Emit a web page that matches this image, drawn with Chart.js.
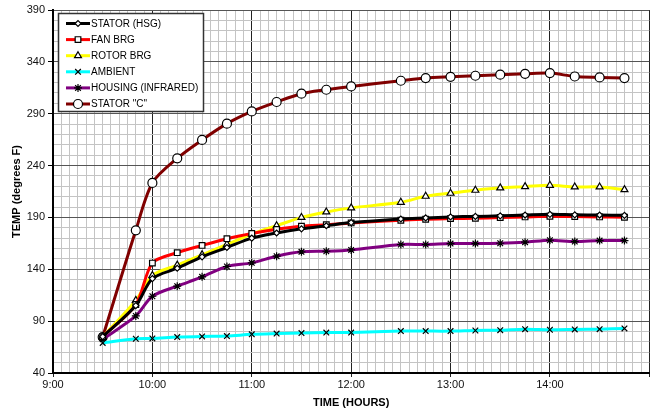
<!DOCTYPE html>
<html>
<head>
<meta charset="utf-8">
<script src="https://cdn.jsdelivr.net/npm/chart.js@4/dist/chart.umd.min.js"></script>
<style>
  html, body { margin: 0; padding: 0; background: #fff; }
  #wrap { width: 655px; height: 413px; }
</style>
</head>
<body>
<div id="wrap"><canvas id="tempChart"></canvas></div>
<script>
// readings (time of day, degrees F)
const times = ["9:30", "9:50", "10:00", "10:15", "10:30", "10:45", "11:00", "11:15", "11:30", "11:45",
  "12:00", "12:30", "12:45", "13:00", "13:15", "13:30", "13:45", "14:00", "14:15", "14:30", "14:45"];

const statorHsg = [75, 105, 131, 141, 152, 161, 170, 175, 179, 182,
  185, 188.5, 189.5, 190.5, 191, 191.5, 192.3, 193, 192.5, 192.3, 192];
const fanBrg = [75, 106, 146, 156, 163, 169.5, 174.5, 178.5, 181.5, 183,
  184.7, 187.3, 188.2, 188.9, 189.2, 189.9, 190.5, 191.1, 190.8, 190.5, 190.2];
const rotorBrg = [75, 110, 134, 144, 154, 164, 174, 182, 190, 195.3,
  199.2, 204.6, 210.4, 213.3, 216.2, 218.5, 219.7, 221, 219.4, 219.4, 216.8];
const ambient = [69, 73, 73.3, 74.6, 75.3, 75.6, 77.3, 78, 78.5, 79,
  79, 80.4, 80.4, 80.4, 81, 81.3, 82.3, 81.7, 82, 82.3, 83];
const housing = [72.5, 95, 114, 123.7, 132.7, 142.7, 146.2, 152.6, 156.8, 157.4,
  158.7, 163.9, 163.9, 164.8, 164.8, 165.1, 166.1, 168, 166.7, 167.7, 167.7];
const statorC = [74.6, 177.6, 223.3, 247, 264.7, 280.4, 292.2, 301.3, 309.3, 313.1,
  316.3, 321.8, 324.4, 325.6, 326.6, 327.6, 328.5, 329.2, 325.9, 325, 324.4];

const seriesNames = ["STATOR (HSG)", "FAN BRG", "ROTOR BRG", "AMBIENT", "HOUSING (INFRARED)", 'STATOR "C"'];

// x axis: 9:00 .. 15:00, in minutes
const xMin = 9 * 60;
const xMax = 15 * 60;
const yMin = 40;
const yMax = 390;

function toMinutes(t) {
  const parts = t.split(":");
  return parseInt(parts[0]) * 60 + parseInt(parts[1]);
}

function points(values) {
  return values.map((v, i) => ({ x: toMinutes(times[i]), y: v }));
}

function series(label, values, color, style, radius) {
  return {
    label: label,
    data: points(values),
    borderColor: color,
    backgroundColor: color,
    borderWidth: 3,
    tension: 0.3,
    pointStyle: style,
    pointRadius: radius,
    pointBackgroundColor: "#fff",
    pointBorderColor: "#000",
    pointBorderWidth: 1.2
  };
}

const datasets = [
  series(seriesNames[0], statorHsg, "#000000", "rectRot", 3),
  series(seriesNames[1], fanBrg, "#ff0000", "rect", 4),
  series(seriesNames[2], rotorBrg, "#ffff00", "triangle", 4),
  series(seriesNames[3], ambient, "#00ffff", "crossRot", 4),
  series(seriesNames[4], housing, "#800080", "star", 4),
  series(seriesNames[5], statorC, "#800000", "circle", 4.5)
];

// legend box drawn inside the plot, top-left
const boxLegend = {
  id: "boxLegend",
  afterDraw(chart) {
    const ctx = chart.ctx;
    const left = 58.5, top = 13.5, w = 145, h = 98;
    ctx.save();
    ctx.fillStyle = "#fff";
    ctx.fillRect(left, top, w, h);
    ctx.strokeStyle = "#333";
    ctx.lineWidth = 1.5;
    ctx.strokeRect(left, top, w, h);
    ctx.font = "10px 'Liberation Sans', Arial, sans-serif";
    ctx.textBaseline = "middle";
    chart.data.datasets.forEach((ds, i) => {
      const y = 23.5 + i * 16.1;
      ctx.strokeStyle = ds.borderColor;
      ctx.lineWidth = 3;
      ctx.beginPath();
      ctx.moveTo(66, y);
      ctx.lineTo(90, y);
      ctx.stroke();
      ctx.fillStyle = "#fff";
      ctx.strokeStyle = "#000";
      ctx.lineWidth = 1.2;
      Chart.helpers.drawPoint(ctx, {
        pointStyle: ds.pointStyle,
        radius: ds.pointRadius,
        rotation: 0,
        borderWidth: 1.2
      }, 78, y);
      ctx.fillStyle = "#000";
      ctx.fillText(ds.label, 91, y + 0.5);
    });
    ctx.restore();
  }
};

function hourLabel(m) {
  return Math.floor(m / 60) + ":" + String(m % 60).padStart(2, "0");
}

new Chart(document.getElementById("tempChart"), {
  type: "line",
  data: { datasets: datasets },
  plugins: [boxLegend],
  options: {
    responsive: true,
    maintainAspectRatio: false,
    animation: false,
    layout: { padding: { top: 10, right: 3, left: 0, bottom: 0 } },
    plugins: {
      legend: { display: false },
      tooltip: { enabled: false }
    },
    scales: {
      x: {
        type: "linear",
        min: xMin,
        max: xMax,
        afterFit(scale) { scale.height = 40; },
        ticks: {
          stepSize: 5,
          autoSkip: false,
          maxRotation: 0,
          padding: 1,
          color: "#111",
          font: { family: "'Liberation Sans', Arial, sans-serif", size: 11 },
          callback: v => (v % 60 === 0 && v < xMax) ? hourLabel(v) : ""
        },
        grid: {
          color: c => (c.tick && c.tick.value % 60 === 0) ? "#222" : "#c4c4c4",
          lineWidth: 1,
          tickLength: 4,
          tickColor: c => (c.tick && c.tick.value % 60 === 0) ? "#222" : "rgba(0,0,0,0)"
        },
        border: { color: "#000", width: 2 },
        title: {
          display: true,
          text: "TIME (HOURS)",
          color: "#000",
          font: { family: "'Liberation Sans', Arial, sans-serif", size: 11, weight: "bold" },
          padding: { top: 0, bottom: 3 }
        }
      },
      y: {
        min: yMin,
        max: yMax,
        afterFit(scale) { scale.width = 53; },
        ticks: {
          stepSize: 10,
          autoSkip: false,
          padding: 3,
          color: "#111",
          font: { family: "'Liberation Sans', Arial, sans-serif", size: 11 },
          callback: v => ((v - yMin) % 50 === 0) ? String(v) : ""
        },
        grid: {
          color: c => (c.tick && (c.tick.value - yMin) % 50 === 0) ? "#555" : "#c4c4c4",
          lineWidth: 1,
          tickLength: 5,
          tickColor: c => (c.tick && (c.tick.value - yMin) % 50 === 0) ? "#000" : "rgba(0,0,0,0)"
        },
        border: { color: "#000", width: 2 },
        title: {
          display: true,
          text: "TEMP (degrees F)",
          color: "#000",
          font: { family: "'Liberation Sans', Arial, sans-serif", size: 11, weight: "bold" },
          padding: { top: 10, bottom: 0 }
        }
      }
    }
  }
});
</script>
</body>
</html>
